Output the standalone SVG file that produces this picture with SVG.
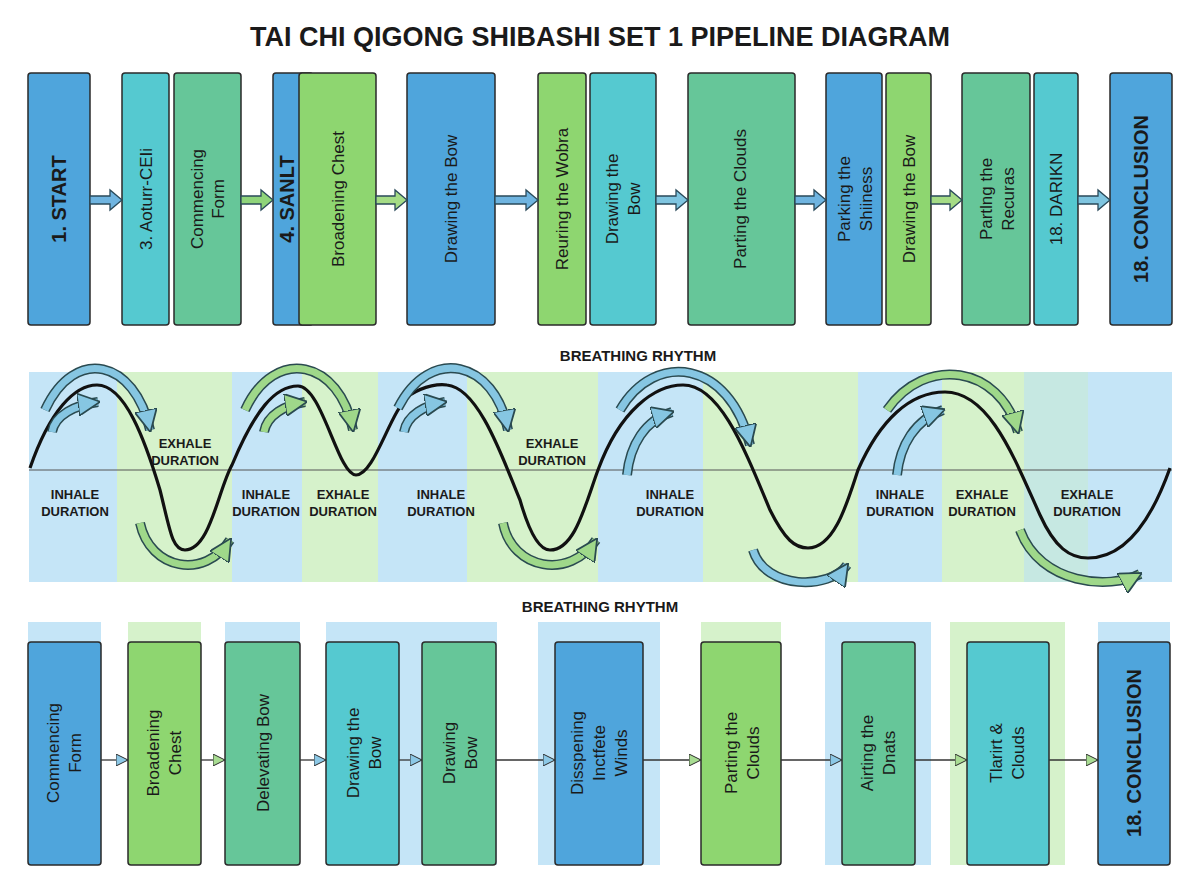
<svg xmlns="http://www.w3.org/2000/svg" width="1200" height="896" viewBox="0 0 1200 896">
<style>
.t{font-family:"Liberation Sans",Arial,sans-serif;fill:#1a1a1a}
.n{font-size:17px}
.b{font-size:20px;font-weight:bold}
.lbl{font-family:"Liberation Sans",Arial,sans-serif;font-size:13px;font-weight:bold;fill:#1a1a1a;text-anchor:middle}
rect.bx{stroke:#2a2a2a;stroke-width:1.5}
.blue{fill:#4FA5DC}.cyan{fill:#55C9D0}.teal{fill:#66C699}.lg{fill:#8ED670}
.bgb{fill:#C5E5F7}.bgg{fill:#D6F2CB}
.ao{fill:none;stroke:#2a4a50;stroke-width:10;stroke-linecap:butt}
</style>
<defs>
<marker id="hb" viewBox="0 0 10 10" refX="9" refY="5" markerWidth="3.2" markerHeight="3.2" orient="auto" markerUnits="strokeWidth"><path d="M0,0 L10,5 L0,10 Z" fill="#86C6E2" stroke="#2a4a50" stroke-width="0.8"/></marker>
<marker id="hg" viewBox="0 0 10 10" refX="9" refY="5" markerWidth="3.2" markerHeight="3.2" orient="auto" markerUnits="strokeWidth"><path d="M0,0 L10,5 L0,10 Z" fill="#9FD88A" stroke="#2a4a50" stroke-width="0.8"/></marker>
<marker id="tb" viewBox="0 0 12 12" refX="11" refY="6" markerWidth="12" markerHeight="12" orient="auto" markerUnits="userSpaceOnUse"><path d="M0,0 L12,6 L0,12 Z" fill="#8CC8E6" stroke="#2a2a2a" stroke-width="1"/></marker>
<marker id="tg" viewBox="0 0 12 12" refX="11" refY="6" markerWidth="12" markerHeight="12" orient="auto" markerUnits="userSpaceOnUse"><path d="M0,0 L12,6 L0,12 Z" fill="#A8DC92" stroke="#2a2a2a" stroke-width="1"/></marker>
</defs>
<rect width="1200" height="896" fill="#ffffff"/>
<text x="600" y="46" text-anchor="middle" font-family="Liberation Sans,Arial,sans-serif" font-size="27" font-weight="bold" fill="#1a1a1a">TAI CHI QIGONG SHIBASHI SET 1 PIPELINE DIAGRAM</text>

<!-- top row -->
<g id="top-nodes">
<g id="t1"><rect class="bx blue" x="28" y="73" width="62" height="252" rx="3"/><text class="t b" transform="translate(66 199) rotate(-90)" text-anchor="middle">1. START</text></g>
<g id="t2"><rect class="bx cyan" x="122" y="73" width="47" height="252" rx="3"/><text class="t n" transform="translate(152 199) rotate(-90)" text-anchor="middle">3. Aoturr-CEIi</text></g>
<g id="t3"><rect class="bx teal" x="174" y="73" width="67" height="252" rx="3"/><text class="t n" transform="translate(203 199) rotate(-90)" text-anchor="middle">Commencing</text><text class="t n" transform="translate(224 199) rotate(-90)" text-anchor="middle">Form</text></g>
<g id="t4"><rect class="bx blue" x="273" y="73" width="40" height="252" rx="3"/><text class="t b" transform="translate(294 199) rotate(-90)" text-anchor="middle">4. SANLT</text></g>
<g id="t5"><rect class="bx lg" x="299" y="73" width="77" height="252" rx="3"/><text class="t n" transform="translate(344 199) rotate(-90)" text-anchor="middle">Broadening Chest</text></g>
<g id="t6"><rect class="bx blue" x="407" y="73" width="88" height="252" rx="3"/><text class="t n" transform="translate(457 199) rotate(-90)" text-anchor="middle">Drawing the Bow</text></g>
<g id="t7"><rect class="bx lg" x="538" y="73" width="48" height="252" rx="3"/><text class="t n" transform="translate(568 199) rotate(-90)" text-anchor="middle">Reuring the Wobra</text></g>
<g id="t8"><rect class="bx cyan" x="590" y="73" width="66" height="252" rx="3"/><text class="t n" transform="translate(618 199) rotate(-90)" text-anchor="middle">Drawing the</text><text class="t n" transform="translate(640 199) rotate(-90)" text-anchor="middle">Bow</text></g>
<g id="t9"><rect class="bx teal" x="688" y="73" width="107" height="252" rx="3"/><text class="t n" transform="translate(746 199) rotate(-90)" text-anchor="middle">Parting the Clouds</text></g>
<g id="t10"><rect class="bx blue" x="826" y="73" width="56" height="252" rx="3"/><text class="t n" transform="translate(850 199) rotate(-90)" text-anchor="middle">Parking the</text><text class="t n" transform="translate(872 199) rotate(-90)" text-anchor="middle">Shiiness</text></g>
<g id="t11"><rect class="bx lg" x="886" y="73" width="45" height="252" rx="3"/><text class="t n" transform="translate(915 199) rotate(-90)" text-anchor="middle">Drawing the Bow</text></g>
<g id="t12"><rect class="bx teal" x="962" y="73" width="68" height="252" rx="3"/><text class="t n" transform="translate(992 199) rotate(-90)" text-anchor="middle">Partlng the</text><text class="t n" transform="translate(1014 199) rotate(-90)" text-anchor="middle">Recuras</text></g>
<g id="t13"><rect class="bx cyan" x="1034" y="73" width="44" height="252" rx="3"/><text class="t n" transform="translate(1062 199) rotate(-90)" text-anchor="middle">18. DARIKN</text></g>
<g id="t14"><rect class="bx blue" x="1110" y="73" width="62" height="252" rx="3"/><text class="t b" transform="translate(1148 199) rotate(-90)" text-anchor="middle">18. CONCLUSION</text></g>
</g>

<g id="top-connectors" stroke="#2a4a5a" stroke-width="1.3">
<path fill="#6FB4E0" d="M90,196 h20 v-6 l12,10 l-12,10 v-6 h-20 z"/>
<path fill="#8FD47A" d="M241,196 h20 v-6 l12,10 l-12,10 v-6 h-20 z"/>
<path fill="#A5DC86" d="M376,196 h19 v-6 l12,10 l-12,10 v-6 h-19 z"/>
<path fill="#6FB4E0" d="M495,196 h31 v-6 l12,10 l-12,10 v-6 h-31 z"/>
<path fill="#7FC5E0" d="M656,196 h20 v-6 l12,10 l-12,10 v-6 h-20 z"/>
<path fill="#6FB4E0" d="M795,196 h19 v-6 l12,10 l-12,10 v-6 h-19 z"/>
<path fill="#A5DC86" d="M931,196 h19 v-6 l12,10 l-12,10 v-6 h-19 z"/>
<path fill="#7FC5E0" d="M1078,196 h20 v-6 l12,10 l-12,10 v-6 h-20 z"/>
</g>

<!-- breathing rhythm -->
<text x="638" y="361" text-anchor="middle" font-family="Liberation Sans,Arial,sans-serif" font-size="15" font-weight="bold" fill="#1a1a1a">BREATHING RHYTHM</text>
<g id="rhythm-bg">
<rect class="bgb" x="29" y="372" width="88" height="210"/>
<rect class="bgg" x="117" y="372" width="115" height="210"/>
<rect class="bgb" x="232" y="372" width="70" height="210"/>
<rect class="bgg" x="302" y="372" width="76" height="210"/>
<rect class="bgb" x="378" y="372" width="89" height="210"/>
<rect class="bgg" x="467" y="372" width="131" height="210"/>
<rect class="bgb" x="598" y="372" width="105" height="210"/>
<rect class="bgg" x="703" y="372" width="155" height="210"/>
<rect class="bgb" x="858" y="372" width="84" height="210"/>
<rect class="bgg" x="942" y="372" width="82" height="210"/>
<rect fill="#C6E8E2" x="1024" y="372" width="64" height="210"/>
<rect class="bgb" x="1088" y="372" width="84" height="210"/>
</g>
<line x1="29" y1="470" x2="1172" y2="470" stroke="#555" stroke-width="1"/>
<path id="wave" fill="none" stroke="#111" stroke-width="3.2" d="M30,468 C50,410 75,385 97,385 C125,385 145,440 160,490 C170,530 172,550 185,550 C210,550 218,490 232,465 C255,410 275,386 298,386 C322,386 338,475 356,475 C375,475 390,410 410,395 C425,385 440,384 447,385 C480,388 505,465 520,500 C530,535 540,550 550,550 C575,550 585,505 598,470 C620,410 655,385 683,385 C720,385 745,450 770,510 C785,540 795,548 808,548 C835,548 848,500 858,470 C880,420 910,392 945,392 C990,392 1015,460 1040,515 C1055,548 1070,558 1088,558 C1130,558 1155,510 1170,468"/>
<g id="breath-arrows">
<path class="ao" d="M45,410 C75,345 135,360 150,430"/><path fill="none" stroke="#86C6E2" stroke-width="7" marker-end="url(#hb)" d="M45,410 C75,345 135,360 150,430"/>
<path class="ao" d="M52,432 C55,415 75,405 98,402"/><path fill="none" stroke="#86C6E2" stroke-width="7" marker-end="url(#hb)" d="M52,432 C55,415 75,405 98,402"/>
<path class="ao" d="M140,523 C150,570 205,580 230,540"/><path fill="none" stroke="#9FD88A" stroke-width="7" marker-end="url(#hg)" d="M140,523 C150,570 205,580 230,540"/>
<path class="ao" d="M245,410 C275,345 340,360 353,430"/><path fill="none" stroke="#9FD88A" stroke-width="7" marker-end="url(#hg)" d="M245,410 C275,345 340,360 353,430"/>
<path class="ao" d="M264,432 C267,415 285,405 305,402"/><path fill="none" stroke="#9FD88A" stroke-width="7" marker-end="url(#hg)" d="M264,432 C267,415 285,405 305,402"/>
<path class="ao" d="M398,408 C430,345 495,360 508,430"/><path fill="none" stroke="#86C6E2" stroke-width="7" marker-end="url(#hb)" d="M398,408 C430,345 495,360 508,430"/>
<path class="ao" d="M404,432 C407,415 425,405 445,402"/><path fill="none" stroke="#86C6E2" stroke-width="7" marker-end="url(#hb)" d="M404,432 C407,415 425,405 445,402"/>
<path class="ao" d="M503,523 C512,570 570,580 596,540"/><path fill="none" stroke="#9FD88A" stroke-width="7" marker-end="url(#hg)" d="M503,523 C512,570 570,580 596,540"/>
<path class="ao" d="M620,410 C655,350 730,360 750,445"/><path fill="none" stroke="#86C6E2" stroke-width="7" marker-end="url(#hb)" d="M620,410 C655,350 730,360 750,445"/>
<path class="ao" d="M627,475 C630,445 645,420 672,412"/><path fill="none" stroke="#86C6E2" stroke-width="7" marker-end="url(#hb)" d="M627,475 C630,445 645,420 672,412"/>
<path class="ao" d="M753,550 C765,590 830,590 847,565"/><path fill="none" stroke="#86C6E2" stroke-width="7" marker-end="url(#hb)" d="M753,550 C765,590 830,590 847,565"/>
<path class="ao" d="M887,410 C925,355 1000,365 1018,432"/><path fill="none" stroke="#9FD88A" stroke-width="7" marker-end="url(#hg)" d="M887,410 C925,355 1000,365 1018,432"/>
<path class="ao" d="M897,475 C900,445 915,420 943,410"/><path fill="none" stroke="#86C6E2" stroke-width="7" marker-end="url(#hb)" d="M897,475 C900,445 915,420 943,410"/>
<path class="ao" d="M1020,530 C1040,585 1110,590 1140,574"/><path fill="none" stroke="#9FD88A" stroke-width="7" marker-end="url(#hg)" d="M1020,530 C1040,585 1110,590 1140,574"/>
</g>
<g id="breath-labels">
<text class="lbl" x="185" y="448">EXHALE</text><text class="lbl" x="185" y="465">DURATION</text>
<text class="lbl" x="75" y="499">INHALE</text><text class="lbl" x="75" y="516">DURATION</text>
<text class="lbl" x="266" y="499">INHALE</text><text class="lbl" x="266" y="516">DURATION</text>
<text class="lbl" x="343" y="499">EXHALE</text><text class="lbl" x="343" y="516">DURATION</text>
<text class="lbl" x="441" y="499">INHALE</text><text class="lbl" x="441" y="516">DURATION</text>
<text class="lbl" x="552" y="448">EXHALE</text><text class="lbl" x="552" y="465">DURATION</text>
<text class="lbl" x="670" y="499">INHALE</text><text class="lbl" x="670" y="516">DURATION</text>
<text class="lbl" x="900" y="499">INHALE</text><text class="lbl" x="900" y="516">DURATION</text>
<text class="lbl" x="982" y="499">EXHALE</text><text class="lbl" x="982" y="516">DURATION</text>
<text class="lbl" x="1087" y="499">EXHALE</text><text class="lbl" x="1087" y="516">DURATION</text>
</g>

<!-- bottom row -->
<text x="600" y="612" text-anchor="middle" font-family="Liberation Sans,Arial,sans-serif" font-size="15" font-weight="bold" fill="#1a1a1a">BREATHING RHYTHM</text>
<g id="bottom-bg">
<rect class="bgb" x="28" y="622" width="73" height="243"/>
<rect class="bgg" x="128" y="622" width="73" height="243"/>
<rect class="bgb" x="225" y="622" width="75" height="243"/>
<rect class="bgb" x="326" y="622" width="171" height="243"/>
<rect class="bgb" x="538" y="622" width="122" height="243"/>
<rect class="bgg" x="701" y="622" width="80" height="243"/>
<rect class="bgb" x="825" y="622" width="106" height="243"/>
<rect class="bgg" x="950" y="622" width="115" height="243"/>
<rect class="bgb" x="1098" y="622" width="72" height="243"/>
</g>
<g id="bottom-nodes">
<g id="b1"><rect class="bx blue" x="28" y="642" width="73" height="223" rx="3"/><text class="t n" transform="translate(59 753) rotate(-90)" text-anchor="middle">Commencing</text><text class="t n" transform="translate(81 753) rotate(-90)" text-anchor="middle">Form</text></g>
<g id="b2"><rect class="bx lg" x="128" y="642" width="73" height="223" rx="3"/><text class="t n" transform="translate(159 753) rotate(-90)" text-anchor="middle">Broadening</text><text class="t n" transform="translate(181 753) rotate(-90)" text-anchor="middle">Chest</text></g>
<g id="b3"><rect class="bx teal" x="225" y="642" width="75" height="223" rx="3"/><text class="t n" transform="translate(269 753) rotate(-90)" text-anchor="middle">Delevating Bow</text></g>
<g id="b4"><rect class="bx cyan" x="326" y="642" width="73" height="223" rx="3"/><text class="t n" transform="translate(359 753) rotate(-90)" text-anchor="middle">Drawing the</text><text class="t n" transform="translate(381 753) rotate(-90)" text-anchor="middle">Bow</text></g>
<g id="b5"><rect class="bx teal" x="422" y="642" width="74" height="223" rx="3"/><text class="t n" transform="translate(455 753) rotate(-90)" text-anchor="middle">Drawing</text><text class="t n" transform="translate(477 753) rotate(-90)" text-anchor="middle">Bow</text></g>
<g id="b6"><rect class="bx blue" x="555" y="642" width="88" height="223" rx="3"/><text class="t n" transform="translate(583 753) rotate(-90)" text-anchor="middle">Disspening</text><text class="t n" transform="translate(605 753) rotate(-90)" text-anchor="middle">Inctfete</text><text class="t n" transform="translate(627 753) rotate(-90)" text-anchor="middle">Winds</text></g>
<g id="b7"><rect class="bx lg" x="701" y="642" width="80" height="223" rx="3"/><text class="t n" transform="translate(737 753) rotate(-90)" text-anchor="middle">Parting the</text><text class="t n" transform="translate(759 753) rotate(-90)" text-anchor="middle">Clouds</text></g>
<g id="b8"><rect class="bx teal" x="842" y="642" width="73" height="223" rx="3"/><text class="t n" transform="translate(873 753) rotate(-90)" text-anchor="middle">Airting the</text><text class="t n" transform="translate(895 753) rotate(-90)" text-anchor="middle">Dnats</text></g>
<g id="b9"><rect class="bx cyan" x="967" y="642" width="82" height="223" rx="3"/><text class="t n" transform="translate(1002 753) rotate(-90)" text-anchor="middle">Tlarirt &amp;</text><text class="t n" transform="translate(1024 753) rotate(-90)" text-anchor="middle">Clouds</text></g>
<g id="b10"><rect class="bx blue" x="1098" y="642" width="72" height="223" rx="3"/><text class="t b" transform="translate(1141 753) rotate(-90)" text-anchor="middle">18. CONCLUSION</text></g>
</g>
<g id="bottom-connectors" stroke="#333" stroke-width="1.3" fill="none">
<line x1="101" y1="760" x2="127" y2="760" marker-end="url(#tb)"/>
<line x1="201" y1="760" x2="224" y2="760" marker-end="url(#tg)"/>
<line x1="300" y1="760" x2="325" y2="760" marker-end="url(#tb)"/>
<line x1="399" y1="760" x2="421" y2="760" marker-end="url(#tb)"/>
<line x1="496" y1="760" x2="554" y2="760" marker-end="url(#tb)"/>
<line x1="643" y1="760" x2="700" y2="760" marker-end="url(#tg)"/>
<line x1="781" y1="760" x2="841" y2="760" marker-end="url(#tb)"/>
<line x1="915" y1="760" x2="966" y2="760" marker-end="url(#tg)"/>
<line x1="1049" y1="760" x2="1097" y2="760" marker-end="url(#tg)"/>
</g>
</svg>
